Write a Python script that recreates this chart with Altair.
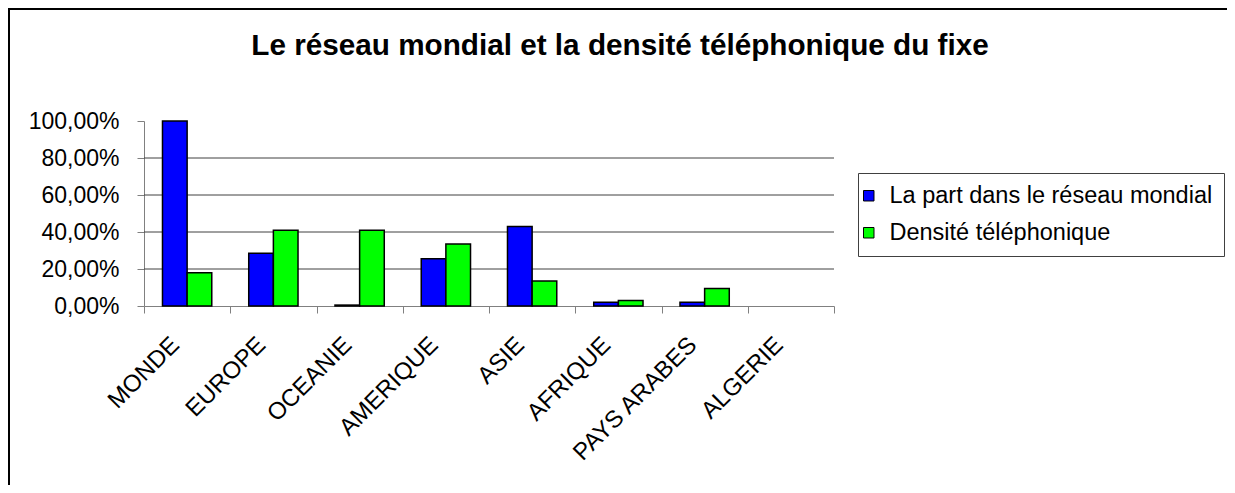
import altair as alt
import pandas as pd

categories = ["MONDE", "EUROPE", "OCEANIE", "AMERIQUE", "ASIE", "AFRIQUE", "PAYS ARABES", "ALGERIE"]
part_reseau = [1.00, 0.285, 0.005, 0.255, 0.43, 0.02, 0.02, None]
densite = [0.18, 0.41, 0.41, 0.335, 0.135, 0.03, 0.095, None]
series = ["La part dans le réseau mondial", "Densité téléphonique"]
colors = ["#0000FF", "#00FF00"]
y_ticks = [0, 0.2, 0.4, 0.6, 0.8, 1.0]
grid_values = [0.2, 0.4, 0.6, 0.8]
title_text = "Le réseau mondial et la densité téléphonique du fixe"

rows = []
for c, a, b in zip(categories, part_reseau, densite):
    rows.append({"cat": c, "serie": series[0], "val": a})
    rows.append({"cat": c, "serie": series[1], "val": b})
df = pd.DataFrame(rows)

W, H = 690, 185
FONT = "Liberation Sans"

yscale = alt.Scale(domain=[0, 1], nice=False)

x_enc = alt.X(
    "cat:N",
    sort=categories,
    scale=alt.Scale(domain=categories, paddingInner=0, paddingOuter=0),
    axis=alt.Axis(
        title=None, labelAngle=-45, labelAlign="right", labelBaseline="middle",
        labelFontSize=24, labelFont=FONT, labelColor="black",
        tickBand="extent", tickSize=7, tickColor="#808080",
        domainColor="#808080", labelPadding=28, labelOffset=-12, labelLimit=300,
    ),
)

y_axis = alt.Axis(
    title=None, values=y_ticks, grid=False,
    labelExpr="replace(format(datum.value, '.2%'), '.', ',')",
    labelFontSize=23, labelFont=FONT, labelColor="black",
    tickSize=7, tickColor="#808080", domainColor="#808080", labelPadding=18,
)

bars = alt.Chart(df).transform_filter("isValid(datum.val)").mark_bar(
    stroke="black", strokeWidth=1.5
).encode(
    x=x_enc,
    xOffset=alt.XOffset("serie:N", sort=series,
                        scale=alt.Scale(domain=series, paddingInner=0, paddingOuter=0.75)),
    y=alt.Y("val:Q", scale=yscale, axis=y_axis),
    color=alt.Color(
        "serie:N", sort=series, scale=alt.Scale(domain=series, range=colors),
        legend=alt.Legend(
            title=None, orient="none", legendX=714, legendY=52, direction="vertical",
            labelFontSize=23.5, labelFont=FONT, labelColor="black", labelLimit=400,
            symbolType="square", symbolSize=110, symbolStrokeColor="black",
            symbolStrokeWidth=1, strokeColor="#404040", fillColor="white",
            padding=11, rowPadding=12, labelOffset=9, symbolOffset=-12,
        ),
    ),
)

grid = alt.Chart(pd.DataFrame({"g": grid_values})).mark_rule(
    color="#404040", strokeWidth=1
).encode(
    y=alt.Y("g:Q", scale=yscale, axis=y_axis),
    x=alt.value(0), x2=alt.value(W),
)

frame_top = alt.Chart(pd.DataFrame({"k": [0]})).mark_rule(
    stroke="black", strokeWidth=2
).encode(
    x=alt.value(-135), x2=alt.value(1300), y=alt.value(-112),
)

frame_left = alt.Chart(pd.DataFrame({"k": [0]})).mark_rule(
    stroke="black", strokeWidth=2
).encode(
    x=alt.value(-135), y=alt.value(-113), y2=alt.value(420),
)

title = alt.Chart(pd.DataFrame({"t": [title_text]})).mark_text(
    font=FONT, fontSize=29.7, fontWeight="bold", align="center", baseline="alphabetic", color="black"
).encode(
    text="t:N", x=alt.value(476), y=alt.value(-66),
)

chart = alt.layer(frame_top, frame_left, grid, bars, title).properties(
    width=W, height=H,
    autosize=alt.AutoSizeParams(type="none"),
    padding={"left": 136, "top": 113, "right": 393, "bottom": 179},
).configure_view(stroke=None)

chart.save("out.html", embed_options={"renderer": "svg", "actions": False})
